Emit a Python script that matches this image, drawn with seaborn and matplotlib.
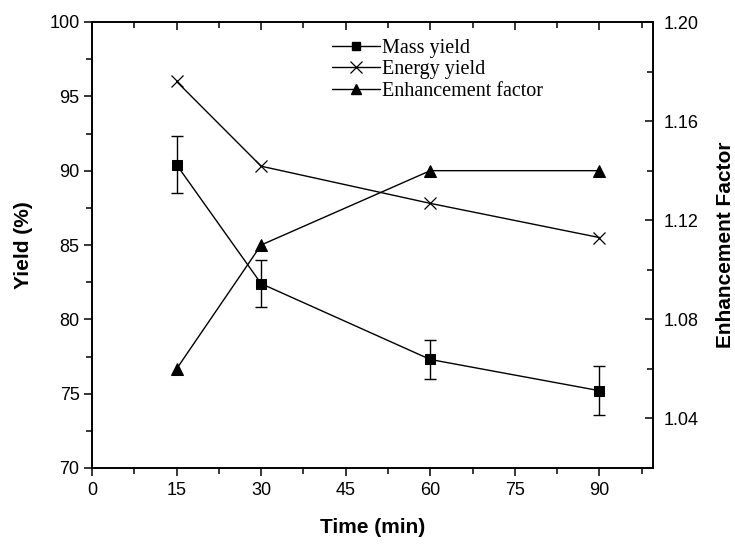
import matplotlib
matplotlib.use("Agg")
import matplotlib.pyplot as plt
from matplotlib.ticker import MultipleLocator
from matplotlib.lines import Line2D
import seaborn as sns
import pandas as pd

time_min = [15, 30, 60, 90]
mass_yield = [90.4, 82.4, 77.3, 75.2]
mass_err = [1.9, 1.6, 1.3, 1.65]
energy_yield = [96.0, 90.3, 87.8, 85.5]
enhancement = [1.06, 1.11, 1.14, 1.14]

sns.set_style("ticks")
plt.rcParams['font.family'] = ['Liberation Sans', 'DejaVu Sans']
plt.rcParams.update({"text.color": "black", "axes.labelcolor": "black",
                     "xtick.color": "black", "ytick.color": "black",
                     "axes.edgecolor": "black"})

df = pd.DataFrame({"Time": time_min, "Mass": mass_yield, "Energy": energy_yield,
                   "Enh": enhancement})

fig = plt.figure(figsize=(7.35, 5.44), dpi=100)
ax = fig.add_axes([92/735, 1-468/544, (653-92)/735, (468-22)/544])
ax2 = ax.twinx()

sns.lineplot(data=df, x="Time", y="Mass", ax=ax, color="black", lw=1,
             marker="s", markersize=7, markeredgecolor="black", markerfacecolor="black")
ax.errorbar(time_min, mass_yield, yerr=mass_err, fmt="none", ecolor="black",
            elinewidth=1, capsize=4, capthick=1)
sns.lineplot(data=df, x="Time", y="Energy", ax=ax, color="black", lw=1,
             marker="x", markersize=9, markeredgewidth=0.9, markeredgecolor="black")
sns.lineplot(data=df, x="Time", y="Enh", ax=ax2, color="black", lw=1,
             marker="^", markersize=8, markeredgecolor="black", markerfacecolor="black")

ax.set_xlim(0, 99.5)
ax.set_ylim(70, 100)
ax2.set_ylim(1.02, 1.20)

ax.xaxis.set_major_locator(MultipleLocator(15))
ax.xaxis.set_minor_locator(MultipleLocator(7.5))
ax.yaxis.set_major_locator(MultipleLocator(5))
ax.yaxis.set_minor_locator(MultipleLocator(2.5))
ax2.yaxis.set_minor_locator(MultipleLocator(0.02))
ax2.set_yticks([1.04, 1.08, 1.12, 1.16, 1.20])
ax2.set_yticklabels(["1.04", "1.08", "1.12", "1.16", "1.20"])

for a in (ax, ax2):
    for s in a.spines.values():
        s.set_visible(True)
        s.set_linewidth(1.2)
        s.set_color("black")

ax.tick_params(axis="x", which="both", direction="out", top=True, labeltop=False,
               labelsize=13, color="black", width=1.1, pad=4)
ax.tick_params(axis="x", which="major", length=6)
ax.tick_params(axis="x", which="minor", length=4)
ax.tick_params(axis="y", which="both", direction="out", right=False, labelsize=13,
               width=1.1, pad=3)
ax.tick_params(axis="y", which="major", length=6)
ax.tick_params(axis="y", which="minor", length=4)
ax2.tick_params(axis="y", which="both", direction="in", labelsize=13, width=1.1, pad=8)
ax2.tick_params(axis="y", which="major", length=6)
ax2.tick_params(axis="y", which="minor", length=4)
for t in ax.xaxis.get_major_ticks() + ax.xaxis.get_minor_ticks():
    t.tick2line.set_marker(3)

ax.set_xlabel("Time (min)", fontsize=15, fontweight="bold", labelpad=14)
ax.set_ylabel("Yield (%)", fontsize=15, fontweight="bold", labelpad=12)
ax2.set_ylabel("Enhancement Factor", fontsize=15, fontweight="bold", labelpad=12)

handles = [
    Line2D([], [], color="black", lw=1, marker="s", markersize=6),
    Line2D([], [], color="black", lw=1, marker="x", markersize=8, markeredgewidth=0.9),
    Line2D([], [], color="black", lw=1, marker="^", markersize=7),
]
labels = ["Mass yield", "Energy yield", "Enhancement factor"]
ax.legend(handles, labels, loc="upper left", bbox_to_anchor=(0.41, 0.985),
          frameon=False, prop={"family": "Liberation Serif", "size": 14.5},
          handlelength=2.4, handletextpad=0.1, labelspacing=0.12, borderpad=0)

fig.savefig("out.png", dpi=100)
